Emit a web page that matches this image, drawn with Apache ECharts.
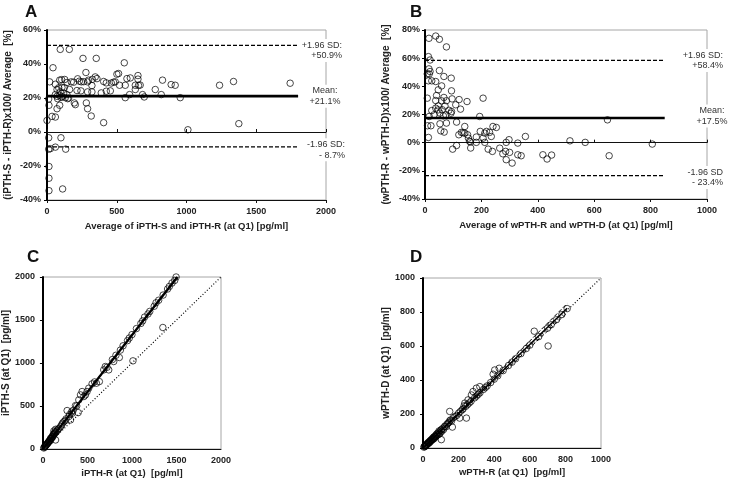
<!DOCTYPE html>
<html><head><meta charset="utf-8">
<script src="https://cdn.jsdelivr.net/npm/echarts@6/dist/echarts.min.js"></script>
<style>html,body{margin:0;padding:0;background:#fff}#c{width:741px;height:481px}</style>
</head><body><div id="c"></div>
<script>
// ---------- DATA ----------
const panelTitles = ['A', 'B', 'C', 'D'];
const xNames = ['Average of iPTH-S and iPTH-R (at Q1) [pg/ml]', 'Average of wPTH-R and wPTH-D (at Q1) [pg/ml]', 'iPTH-R (at Q1)  [pg/ml]', 'wPTH-R (at Q1)  [pg/ml]'];
const yNames = ['(iPTH-S - iPTH-R)x100/ Average  [%]', '(wPTH-R - wPTH-D)x100/ Average  [%]', 'iPTH-S (at Q1)  [pg/ml]', 'wPTH-D (at Q1)  [pg/ml]'];

// Panel A: Bland-Altman iPTH
const aPoints = [[95,48.6],[160,48.6],[258,43.3],[353,43.3],[554,40.7],[43,37.8],[279,35.0],[501,34.0],[513,34.4],[346,32.4],[358,31.4],[652,33.2],[652,31.1],[573,31.4],[597,31.8],[828,30.5],[890,27.9],[919,27.5],[1237,27.5],[1337,29.7],[1743,28.7],[19,29.5],[60,28.1],[91,30.5],[105,30.8],[127,30.9],[143,29.1],[174,29.5],[191,29.3],[220,31.3],[232,29.9],[246,29.5],[263,29.6],[291,29.5],[298,30.5],[325,31.0],[322,27.3],[406,29.7],[425,28.9],[461,28.8],[477,29.3],[489,29.5],[520,27.5],[561,27.5],[633,27.5],[656,27.4],[668,27.6],[633,25.0],[776,25.0],[454,24.2],[425,24.0],[215,24.4],[243,24.2],[162,25.0],[291,23.6],[322,23.6],[389,23.0],[124,26.1],[107,26.2],[72,25.0],[84,26.0],[95,23.6],[119,22.8],[143,22.0],[60,22.0],[91,21.6],[72,21.0],[107,20.8],[131,20.2],[148,19.6],[155,20.0],[12,19.4],[76,19.6],[100,20.3],[561,20.2],[592,22.0],[697,20.6],[685,22.0],[819,22.0],[955,20.2],[196,17.1],[203,16.1],[282,17.1],[291,13.7],[72,13.7],[91,15.7],[14,15.7],[36,9.2],[60,8.8],[317,9.4],[0,6.8],[406,5.5],[1010,1.3],[1375,4.9],[12,-3.4],[100,-3.4],[12,-10.1],[24,-9.8],[60,-8.9],[134,-10.1],[14,-20.3],[14,-27.2],[14,-34.5],[112,-33.5]];
const aStats = [50.9, 21.1, -8.7];          // +1.96SD, mean, -1.96SD
const aStatLabels = ['+1.96 SD:\n+50.9%', 'Mean:\n+21.1%', '-1.96 SD:\n- 8.7%'];
const aLineEnd = 1800;
const aXTicks = [0, 2000, 500];            // min, max, interval
const aYTicks = [-40, 60, 20];

// Panel B: Bland-Altman wPTH
const bPoints = [[14,74.1],[38,75.7],[51,73.4],[76,68.0],[12,61.1],[18,58.7],[14,52.4],[18,50.5],[51,51.2],[8,48.8],[15,48.8],[12,43.9],[24,43.9],[38,43.4],[67,47.0],[93,45.8],[59,40.3],[47,37.5],[94,36.8],[41,33.5],[67,32.1],[96,31.1],[121,30.6],[149,29.2],[206,31.6],[8,31.6],[38,29.9],[59,29.7],[76,29.8],[47,26.1],[71,26.0],[109,26.9],[38,24.5],[47,23.3],[61,23.4],[85,23.0],[126,23.8],[94,22.1],[92,20.9],[74,19.8],[65,19.1],[53,21.0],[24,22.8],[32,19.8],[15,18.6],[194,18.6],[9,12.0],[21,12.0],[53,13.4],[76,13.9],[56,8.4],[68,7.5],[112,14.6],[120,5.6],[129,7.3],[135,7.0],[141,6.8],[151,5.6],[141,11.5],[154,3.2],[158,1.0],[161,0.6],[162,-3.8],[12,3.7],[98,-4.6],[112,-2.0],[182,4.0],[182,0.2],[196,8.0],[212,6.8],[206,3.2],[212,0.2],[218,8.0],[229,7.3],[235,4.4],[241,11.5],[253,10.8],[224,-4.6],[239,-6.2],[265,-3.9],[276,-7.9],[286,-6.2],[288,0.2],[298,2.1],[300,-6.9],[288,-12.1],[309,-14.5],[329,-0.3],[329,-8.6],[341,-9.3],[356,4.4],[418,-8.6],[433,-11.6],[449,-8.8],[514,1.3],[568,0.2],[647,16.2],[653,-9.3],[806,-1.0]];
const bStats = [58.4, 17.5, -23.4];
const bStatLabels = ['+1.96 SD:\n+58.4%', 'Mean:\n+17.5%', '-1.96 SD\n- 23.4%'];
const bLineEnd = 850;
const bXTicks = [0, 1000, 200];
const bYTicks = [-40, 80, 20];

// Panel C: iPTH-S vs iPTH-R
const cPoints = [[10,12],[15,20],[20,25],[25,35],[30,38],[35,45],[40,50],[45,58],[50,60],[55,72],[60,75],[65,85],[70,90],[75,100],[80,95],[85,110],[90,120],[95,125],[100,130],[105,150],[110,140],[115,160],[120,170],[125,180],[130,175],[135,200],[140,190],[86,124],[142,105],[123,210],[142,229],[150,200],[160,215],[170,230],[180,240],[198,260],[210,280],[220,300],[235,318],[250,330],[272,447],[260,350],[291,377],[310,338],[300,400],[320,430],[328,415],[340,450],[366,505],[380,500],[396,423],[403,571],[422,629],[440,668],[478,629],[460,610],[496,668],[515,707],[552,757],[601,765],[580,780],[634,784],[683,920],[701,959],[739,920],[720,950],[795,1017],[780,1040],[858,1064],[820,1090],[900,1200],[950,1260],[1011,1025],[1000,1330],[1050,1400],[1100,1460],[1142,1534],[1200,1600],[1250,1660],[1300,1730],[1347,1413],[1400,1860],[1450,1930],[1496,2000],[1480,1960],[1350,1790],[1180,1570],[970,1290],[870,1150],[1270,1700],[1420,1890],[1120,1490]];
const cRegression = [[0, 0], [1510, 2000]];
const cUpper = [[0, 0], [1500, 2000]];
const cLower = [[0, 0], [1520, 2000]];
const cIdentity = [[0, 0], [2000, 2000]];
const cTicks = [0, 2000, 500];

// Panel D: wPTH-D vs wPTH-R
const dPoints = [[5,5],[8,10],[10,8],[12,15],[15,12],[18,20],[20,18],[22,25],[25,22],[28,30],[30,28],[32,35],[35,30],[38,40],[40,36],[42,45],[45,42],[48,50],[50,47],[52,55],[55,50],[58,62],[60,55],[62,65],[65,58],[66,68],[70,72],[72,66],[75,80],[78,74],[80,85],[85,78],[88,92],[90,100],[94,84],[95,88],[100,105],[103,107],[103,49],[105,98],[110,115],[115,108],[120,125],[125,130],[130,125],[135,140],[140,145],[145,150],[150,160],[150,215],[155,165],[160,158],[165,123],[170,178],[180,185],[190,192],[200,205],[206,176],[210,215],[220,225],[225,230],[231,248],[235,264],[244,176],[240,245],[250,255],[253,283],[260,265],[272,312],[270,275],[281,332],[290,295],[300,352],[300,305],[310,315],[319,361],[320,325],[340,345],[350,355],[360,365],[380,385],[394,434],[403,459],[400,405],[428,469],[420,425],[450,455],[480,485],[500,505],[520,525],[550,555],[580,585],[600,605],[625,687],[650,655],[700,705],[703,600],[720,725],[750,755],[780,785],[810,820]];
const dRegression = [[0, 0], [810, 822]];
const dUpper = [[0, 0], [810, 850]];
const dLower = [[0, 0], [810, 796]];
const dIdentity = [[0, 0], [1000, 1000]];
const dTicks = [0, 1000, 200];

// ---------- CHART ----------
const FONT = 'Liberation Sans, Arial, sans-serif';
const chart = echarts.init(document.getElementById('c'), null, {renderer: 'canvas'});

const grids = [
  {left: 47, top: 30, width: 279, height: 170},
  {left: 425, top: 30, width: 282, height: 169},
  {left: 42, top: 277, width: 179, height: 172},
  {left: 423, top: 278, width: 178, height: 170}
].map(g => Object.assign(g, {show: true, borderColor: '#a6a6a6', borderWidth: 1, backgroundColor: 'transparent'}));

const labelStyle = {fontFamily: FONT, fontWeight: 'bold', fontSize: 9, color: '#222'};
const xNameStyle = {fontFamily: FONT, fontWeight: 'bold', fontSize: 9.5, color: '#222'};
const yNameStyle = {fontFamily: FONT, fontWeight: 'bold', fontSize: 10, color: '#222'};
const plain = v => String(v);
const pct = v => v + '%';

function bottomAxis(gi, t, name, gap, showTick) {
  return {type: 'value', gridIndex: gi, min: t[0], max: t[1], interval: t[2], position: 'bottom',
    axisLine: {show: true, onZero: false, lineStyle: {color: '#111', width: 1}},
    axisTick: {show: !!showTick, length: 3, lineStyle: {color: '#111'}},
    axisLabel: Object.assign({margin: 7, formatter: plain}, labelStyle),
    splitLine: {show: false},
    name: name, nameLocation: 'middle', nameGap: gap, nameTextStyle: xNameStyle};
}
function zeroAxis(gi, t, pos) {
  return {type: 'value', gridIndex: gi, min: t[0], max: t[1], interval: t[2], position: pos,
    axisLine: {show: true, onZero: true, lineStyle: {color: '#111', width: 1}},
    axisTick: {show: true, length: 3, lineStyle: {color: '#111'}},
    axisLabel: {show: false}, splitLine: {show: false}};
}
function leftAxis(gi, t, name, gap, fmt, margin) {
  return {type: 'value', gridIndex: gi, min: t[0], max: t[1], interval: t[2],
    axisLine: {show: true, onZero: false, lineStyle: {color: '#000', width: 2}},
    axisTick: {show: true, length: 3, lineStyle: {color: '#000'}},
    axisLabel: Object.assign({margin: margin, formatter: fmt}, labelStyle),
    splitLine: {show: false},
    name: name, nameLocation: 'middle', nameGap: gap, nameTextStyle: yNameStyle};
}

const xAxes = [
  bottomAxis(0, aXTicks, xNames[0], 21), zeroAxis(0, aXTicks, 'top'), zeroAxis(0, aXTicks, 'bottom'),
  bottomAxis(1, bXTicks, xNames[1], 21), zeroAxis(1, bXTicks, 'top'), zeroAxis(1, bXTicks, 'bottom'),
  bottomAxis(2, cTicks, xNames[2], 19, false),
  bottomAxis(3, dTicks, xNames[3], 19, false)
];
const yAxes = [
  leftAxis(0, aYTicks, yNames[0], 34, pct, 6),
  leftAxis(1, bYTicks, yNames[1], 34, pct, 5),
  leftAxis(2, cTicks, yNames[2], 30, plain, 8),
  leftAxis(3, dTicks, yNames[3], 30, plain, 8)
];

const pointStyle = {color: 'rgba(255,255,255,0)', borderColor: '#000', borderWidth: 0.9};
function scatter(xi, yi, data) {
  return {type: 'scatter', xAxisIndex: xi, yAxisIndex: yi, data: data, symbol: 'circle', symbolSize: 6.5,
    itemStyle: pointStyle, silent: true, z: 3};
}
function seg(xi, yi, data, width, type) {
  return {type: 'line', xAxisIndex: xi, yAxisIndex: yi, data: data, showSymbol: false, symbol: 'none',
    lineStyle: {color: '#000', width: width, type: type}, silent: true, z: 4};
}
function hline(xi, yi, v, end, width, type) {
  return seg(xi, yi, [[0, v], [end, v]], width, type);
}

const series = [
  scatter(0, 0, aPoints),
  hline(0, 0, aStats[0], aLineEnd, 1.2, [4, 2]),
  hline(0, 0, aStats[1], aLineEnd, 2.6, 'solid'),
  hline(0, 0, aStats[2], aLineEnd, 1.2, [4, 2]),
  scatter(3, 1, bPoints),
  hline(3, 1, bStats[0], bLineEnd, 1.2, [4, 2]),
  hline(3, 1, bStats[1], bLineEnd, 2.6, 'solid'),
  hline(3, 1, bStats[2], bLineEnd, 1.2, [4, 2]),
  scatter(6, 2, cPoints),
  seg(6, 2, cIdentity, 1.2, [1, 2]),
  seg(6, 2, cUpper, 0.8, [4, 2]),
  seg(6, 2, cLower, 0.8, [4, 2]),
  seg(6, 2, cRegression, 2.2, 'solid'),
  scatter(7, 3, dPoints),
  seg(7, 3, dIdentity, 1.2, [1, 2]),
  seg(7, 3, dUpper, 1, [4, 2]),
  seg(7, 3, dLower, 1, [4, 2]),
  seg(7, 3, dRegression, 1.6, 'solid')
];

chart.setOption({
  animation: false,
  backgroundColor: '#fff',
  grid: grids, xAxis: xAxes, yAxis: yAxes, series: series
});

// Stat labels and panel letters placed with the library's coordinate conversion
const graphics = [];
const titlePos = [[25, 4], [410, 4], [27, 249], [410, 249]];
panelTitles.forEach((t, i) => graphics.push({type: 'text', left: titlePos[i][0], top: titlePos[i][1],
  style: {text: t, font: 'bold 17px ' + FONT, fill: '#111'}}));

function addStatLabels(gi, stats, labels, xMax, specs) {
  stats.forEach((v, k) => {
    const p = chart.convertToPixel({gridIndex: gi}, [xMax, v]);
    const s = specs[k];
    graphics.push({type: 'text', x: p[0] + s.dx, y: p[1] + s.dy,
      style: {text: labels[k], font: '9px ' + FONT, fill: '#333', align: s.align, verticalAlign: 'middle',
        lineHeight: 10.5, backgroundColor: '#fff', padding: [1, 1]}, z: 10});
  });
}
addStatLabels(0, aStats, aStatLabels, aXTicks[1], [
  {dx: 17, dy: 5, align: 'right'}, {dx: -1, dy: 0, align: 'center'}, {dx: 20, dy: 3, align: 'right'}]);
addStatLabels(1, bStats, bStatLabels, bXTicks[1], [
  {dx: 17, dy: 0, align: 'right'}, {dx: 5, dy: -2, align: 'center'}, {dx: 17, dy: 2, align: 'right'}]);

chart.setOption({graphic: graphics});
</script></body></html>
